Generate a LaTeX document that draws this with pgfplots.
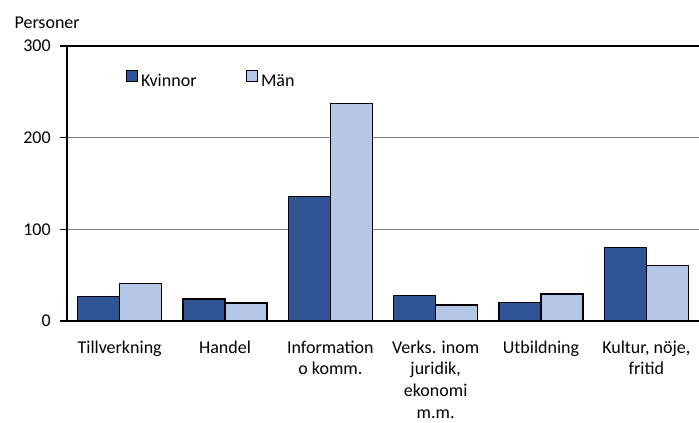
\documentclass[border=0pt]{standalone}
\usepackage{pgfplots}
\pgfplotsset{compat=1.18}
\usepackage{fontspec}
\setmainfont{Carlito}
\definecolor{kv}{HTML}{2F5597}
\definecolor{ma}{HTML}{B4C7E7}
\begin{document}
\fontsize{13.5}{16.5}\selectfont
\begin{tikzpicture}
\path[use as bounding box] (-50.25pt,-76.5pt) rectangle (474pt,240.75pt);
\begin{axis}[
  scale only axis,
  width=474pt, height=206.25pt,
  xmin=-0.5, xmax=5.5,
  ymin=0, ymax=300,
  ytick={0,100,200,300},
  xtick={0,1,2,3,4,5},
  xticklabels={Tillverkning,Handel,Information\\o komm.,{Verks. inom\\juridik,\\ekonomi\\m.m.},Utbildning,{Kultur, nöje,\\fritid}},
  xticklabel style={align=center, inner sep=0pt, yshift=-9pt, font=\fontsize{13.5}{16.4}\selectfont},
  yticklabel style={font=\fontsize{13.5}{17}\selectfont, xshift=-2pt},
  /pgf/number format/assume math mode=true,
  axis x line=bottom, axis y line=left,
  axis line style={line width=1.5pt, -},
  major x tick style={draw=none},
  major y tick style={line width=1.2pt, black},
  tick align=outside, major tick length=5.5pt,
  ymajorgrids, grid style={gray, line width=0.8pt},
  ybar=0pt, bar width=0.4,
  legend style={draw=none, fill=none, at={(41pt,180pt)}, anchor=west, legend columns=2,
    font=\fontsize{13.5}{16.5}\selectfont, column sep=0pt,
    /tikz/every even column/.append style={column sep=35pt}},
  legend image code/.code={\draw[#1, line width=0.9pt] (0pt,0pt) rectangle (8.5pt,8.5pt);},
]
\addplot[fill=kv, draw=black, line width=1pt] coordinates {(0,27) (1,24) (2,136) (3,27.5) (4,20) (5,80.5)};
\addplot[fill=ma, draw=black, line width=1pt] coordinates {(0,41) (1,19.5) (2,237) (3,17.5) (4,29.3) (5,60.5)};
\legend{Kvinnor,Män}
\draw[black, line width=1.2pt] (axis cs:-0.5,300) -- (axis cs:5.5,300);
\end{axis}
\node[anchor=base west] at (-44pt,219.5pt) {Personer};
\end{tikzpicture}
\end{document}
